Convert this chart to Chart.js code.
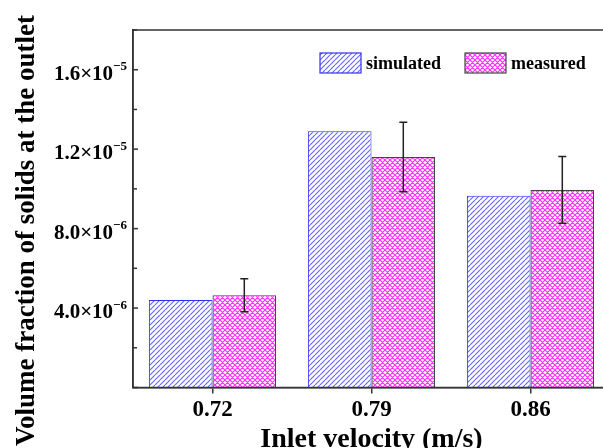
<!DOCTYPE html>
<html>
<head>
<meta charset="utf-8">
<script src="https://cdn.jsdelivr.net/npm/chart.js@4.4.1/dist/chart.umd.min.js"></script>
<style>
  html, body { margin: 0; padding: 0; overflow: hidden; background: #fff; }
  #wrap { width: 612px; height: 448px; }
</style>
</head>
<body>
<div id="wrap"><canvas id="chart" width="612" height="448"></canvas></div>
<script>
// data
const velocities = ["0.72", "0.79", "0.86"];
const simulated = [4.40e-6, 1.29e-5, 9.66e-6];
const measured = [4.65e-6, 1.16e-5, 9.95e-6];
const measuredErr = [0.83e-6, 1.75e-6, 1.68e-6];
const yLabelTicks = [4e-6, 8e-6, 1.2e-5, 1.6e-5];

const SERIF = "'Liberation Serif', 'Times New Roman', serif";
const canvas = document.getElementById("chart");
const ctx = canvas.getContext("2d");

// hatch fills
function makePattern(size, color, width, cross) {
  const c = document.createElement("canvas");
  c.width = size; c.height = size;
  const g = c.getContext("2d");
  g.fillStyle = "#fff";
  g.fillRect(0, 0, size, size);
  g.strokeStyle = color;
  g.lineWidth = width;
  g.beginPath();
  for (let k = -1; k <= 1; k++) {
    g.moveTo(k * size, size); g.lineTo(k * size + size, 0);
    if (cross) { g.moveTo(k * size, 0); g.lineTo(k * size + size, size); }
  }
  g.stroke();
  return ctx.createPattern(c, "repeat");
}
const simFill = makePattern(5, "#6464ff", 1.1, false);
const measFill = makePattern(5, "#ff30ff", 1.2, true);

const decor = {
  id: "decor",
  afterDraw(chart) {
    const c = chart.ctx;
    const a = chart.chartArea;
    const y = chart.scales.y;
    c.save();

    // frame
    c.strokeStyle = "#333";
    c.lineWidth = 1.5;
    c.strokeRect(a.left, a.top, a.right - a.left, a.bottom - a.top);

    // inward y ticks
    y.ticks.forEach(t => {
      const py = y.getPixelForValue(t.value);
      const major = Math.round(t.value / 2e-6) % 2 === 0;
      c.beginPath();
      c.moveTo(a.left, py);
      c.lineTo(a.left + (major ? 5 : 4), py);
      c.stroke();
    });

    // y tick labels with exponent
    c.fillStyle = "#000";
    c.textBaseline = "alphabetic";
    yLabelTicks.forEach(v => {
      const py = y.getPixelForValue(v);
      const exp = Math.floor(Math.log10(v) + 1e-9);
      const mant = (v / Math.pow(10, exp)).toFixed(1);
      const base = mant + "\u00d710";
      const sup = "\u2212" + Math.abs(exp);
      c.font = "bold 13px " + SERIF;
      const ws = c.measureText(sup).width;
      c.textAlign = "right";
      c.fillText(sup, 127, py + 0.5);
      c.font = "bold 21px " + SERIF;
      c.fillText(base, 127 - ws, py + 10);
    });

    // error bars on measured
    const meta = chart.getDatasetMeta(1);
    c.strokeStyle = "#222";
    c.lineWidth = 1.5;
    meta.data.forEach((bar, i) => {
      const top = y.getPixelForValue(measured[i] + measuredErr[i]);
      const bot = y.getPixelForValue(measured[i] - measuredErr[i]);
      c.beginPath();
      c.moveTo(bar.x, top); c.lineTo(bar.x, bot);
      c.moveTo(bar.x - 4, top); c.lineTo(bar.x + 4, top);
      c.moveTo(bar.x - 4, bot); c.lineTo(bar.x + 4, bot);
      c.stroke();
    });

    // legend inside the plot
    const items = [
      { x: 320, fill: simFill, border: "#3030ff", text: "simulated" },
      { x: 465, fill: measFill, border: "#444", text: "measured" }
    ];
    c.font = "bold 18px " + SERIF;
    c.textAlign = "left";
    c.textBaseline = "middle";
    items.forEach(it => {
      c.fillStyle = it.fill;
      c.fillRect(it.x, 53, 41, 20);
      c.strokeStyle = it.border;
      c.lineWidth = 1.2;
      c.strokeRect(it.x, 53, 41, 20);
      c.fillStyle = "#000";
      c.fillText(it.text, it.x + 46, 64);
    });

    // axis titles
    c.textBaseline = "alphabetic";
    c.font = "bold 28px " + SERIF;
    c.textAlign = "center";
    c.fillText("Inlet velocity (m/s)", (a.left + a.right) / 2, 447);

    c.translate(34, 15);
    c.rotate(-Math.PI / 2);
    c.font = "bold 27px " + SERIF;
    c.textAlign = "right";
    c.fillText("Volume fraction of solids at the outlet", 0, 0);
    c.restore();
  }
};

new Chart(ctx, {
  type: "bar",
  data: {
    labels: velocities,
    datasets: [
      {
        label: "simulated",
        data: simulated,
        backgroundColor: simFill,
        borderColor: "#3030ff",
        borderWidth: 1,
        categoryPercentage: 0.8,
        barPercentage: 1.0
      },
      {
        label: "measured",
        data: measured,
        backgroundColor: measFill,
        borderColor: "#444",
        borderWidth: 1.2,
        categoryPercentage: 0.8,
        barPercentage: 1.0
      }
    ]
  },
  options: {
    responsive: false,
    animation: false,
    devicePixelRatio: 1,
    layout: { padding: { top: 30, right: 2, left: 0, bottom: 0 } },
    plugins: {
      legend: { display: false },
      tooltip: { enabled: false }
    },
    scales: {
      x: {
        grid: { offset: false, drawOnChartArea: false, drawTicks: true, tickLength: 6, color: "#333", lineWidth: 1.5 },
        border: { display: true, color: "#333", width: 1.5 },
        ticks: { color: "#000", font: { family: SERIF, size: 23, weight: "bold" }, padding: 3, maxRotation: 0 },
        afterFit(scale) { scale.height = 60.5; }
      },
      y: {
        min: 0,
        max: 1.8e-5,
        grid: { display: false },
        border: { display: true, color: "#333", width: 1.5 },
        ticks: { display: false, stepSize: 2e-6 },
        afterFit(scale) { scale.width = 133; }
      }
    }
  },
  plugins: [decor]
});
</script>
</body>
</html>
